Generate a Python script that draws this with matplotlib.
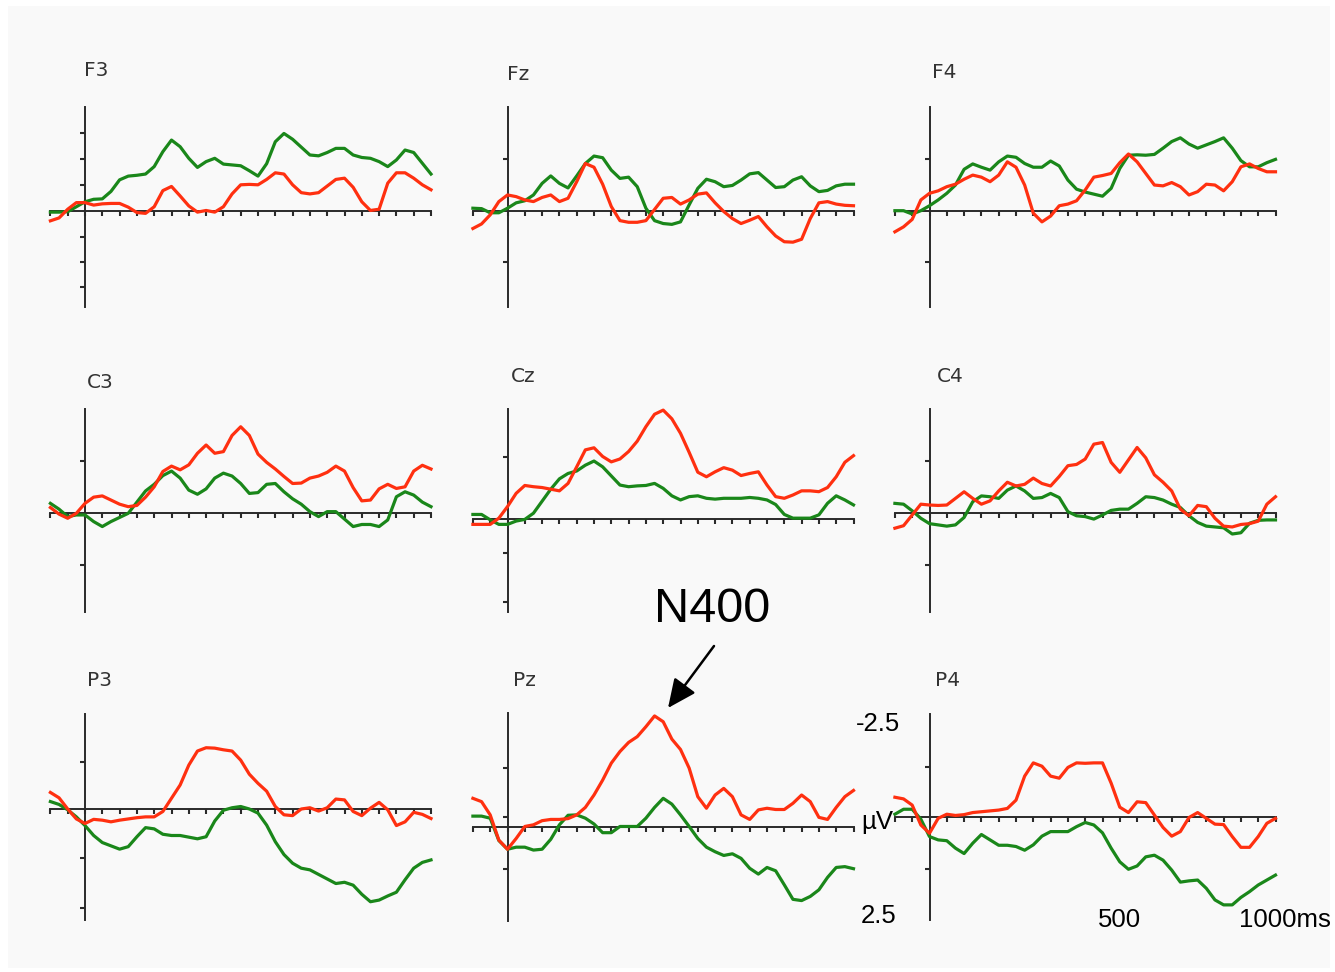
import numpy as np
import matplotlib
matplotlib.use("Agg")
import matplotlib.pyplot as plt
from matplotlib.patches import Rectangle

# ---------------------------------------------------------------- data (µV)
times = np.arange(-100, 1001, 25)  # ms, sampling grid of the averaged waves

F3_green = [0.02, 0.02, 0.01, -0.11, -0.23, -0.29, -0.30, -0.48, -0.76, -0.85,
            -0.87, -0.90, -1.08, -1.44, -1.72, -1.56, -1.28, -1.06, -1.20, -1.28,
            -1.14, -1.12, -1.10, -0.98, -0.85, -1.15, -1.68, -1.88, -1.74, -1.55,
            -1.36, -1.34, -1.42, -1.52, -1.52, -1.36, -1.30, -1.28, -1.20, -1.08,
            -1.24, -1.48, -1.42, -1.16, -0.90]
F3_red = [0.23, 0.16, -0.05, -0.21, -0.21, -0.15, -0.18, -0.19, -0.19, -0.10,
          0.03, 0.05, -0.11, -0.50, -0.60, -0.37, -0.13, 0.02, -0.02, 0.02,
          -0.11, -0.42, -0.64, -0.65, -0.64, -0.77, -0.93, -0.90, -0.64, -0.45,
          -0.42, -0.45, -0.61, -0.77, -0.80, -0.58, -0.23, -0.02, -0.05, -0.68,
          -0.93, -0.93, -0.80, -0.64, -0.52]

Fz_green = [-0.06, -0.05, 0.05, 0.05, -0.06, -0.19, -0.24, -0.38, -0.66, -0.84,
            -0.66, -0.55, -0.84, -1.14, -1.32, -1.28, -0.98, -0.78, -0.81, -0.58,
            -0.06, 0.24, 0.31, 0.33, 0.27, -0.14, -0.54, -0.76, -0.70, -0.58,
            -0.61, -0.74, -0.89, -0.92, -0.74, -0.56, -0.58, -0.74, -0.82, -0.60,
            -0.46, -0.49, -0.60, -0.64, -0.64]
Fz_red = [0.43, 0.32, 0.10, -0.22, -0.38, -0.34, -0.26, -0.22, -0.32, -0.38,
          -0.22, -0.30, -0.70, -1.14, -1.05, -0.64, -0.10, 0.24, 0.28, 0.28,
          0.24, -0.03, -0.30, -0.32, -0.16, -0.26, -0.40, -0.43, -0.19, 0.02,
          0.19, 0.31, 0.23, 0.14, 0.39, 0.61, 0.75, 0.76, 0.69, 0.19,
          -0.19, -0.22, -0.16, -0.13, -0.12]

F4_green = [0.00, 0.00, 0.08, 0.00, -0.12, -0.26, -0.42, -0.62, -1.00, -1.13,
            -1.05, -0.98, -1.18, -1.32, -1.29, -1.14, -1.05, -1.05, -1.20, -1.08,
            -0.74, -0.52, -0.45, -0.40, -0.35, -0.54, -1.02, -1.34, -1.35, -1.34,
            -1.36, -1.51, -1.67, -1.76, -1.61, -1.51, -1.59, -1.67, -1.76, -1.51,
            -1.21, -1.06, -1.06, -1.16, -1.24]
F4_red = [0.51, 0.39, 0.21, -0.26, -0.42, -0.48, -0.58, -0.64, -0.76, -0.86,
          -0.81, -0.70, -0.86, -1.18, -1.05, -0.62, 0.06, 0.27, 0.13, -0.12,
          -0.16, -0.24, -0.50, -0.81, -0.85, -0.90, -1.16, -1.37, -1.18, -0.90,
          -0.62, -0.60, -0.68, -0.58, -0.38, -0.46, -0.64, -0.62, -0.48, -0.70,
          -1.06, -1.13, -1.02, -0.94, -0.94]

C3_green = [-0.24, -0.10, 0.08, 0.04, 0.04, 0.20, 0.32, 0.20, 0.10, 0.00,
            -0.27, -0.54, -0.70, -0.91, -1.02, -0.85, -0.56, -0.46, -0.59, -0.85,
            -0.97, -0.90, -0.72, -0.48, -0.50, -0.70, -0.72, -0.52, -0.35, -0.22,
            -0.04, 0.08, -0.04, -0.04, 0.14, 0.32, 0.27, 0.27, 0.32, 0.16,
            -0.40, -0.52, -0.44, -0.27, -0.16]
C3_red = [-0.14, 0.02, 0.12, 0.00, -0.24, -0.39, -0.42, -0.32, -0.22, -0.16,
          -0.19, -0.39, -0.64, -1.01, -1.14, -1.05, -1.17, -1.45, -1.65, -1.45,
          -1.49, -1.88, -2.09, -1.88, -1.43, -1.23, -1.07, -0.89, -0.72, -0.73,
          -0.85, -0.90, -0.99, -1.14, -1.02, -0.62, -0.30, -0.32, -0.59, -0.70,
          -0.60, -0.64, -1.02, -1.16, -1.07]

Cz_green = [-0.11, -0.11, 0.02, 0.13, 0.13, 0.05, 0.01, -0.14, -0.43, -0.72,
            -0.97, -1.10, -1.16, -1.30, -1.40, -1.26, -1.04, -0.82, -0.78, -0.80,
            -0.81, -0.86, -0.74, -0.56, -0.46, -0.54, -0.56, -0.50, -0.48, -0.50,
            -0.50, -0.50, -0.52, -0.50, -0.46, -0.35, -0.11, -0.02, -0.02, -0.02,
            -0.10, -0.38, -0.56, -0.46, -0.34]
Cz_red = [0.13, 0.13, 0.13, -0.02, -0.30, -0.62, -0.81, -0.78, -0.76, -0.72,
          -0.68, -0.86, -1.26, -1.67, -1.72, -1.51, -1.38, -1.45, -1.63, -1.88,
          -2.23, -2.53, -2.63, -2.42, -2.07, -1.61, -1.13, -1.02, -1.14, -1.24,
          -1.18, -1.05, -1.10, -1.14, -0.82, -0.54, -0.50, -0.58, -0.68, -0.68,
          -0.66, -0.76, -1.02, -1.37, -1.53]

C4_green = [-0.24, -0.22, -0.06, 0.12, 0.25, 0.28, 0.31, 0.28, 0.10, -0.28,
            -0.42, -0.40, -0.36, -0.56, -0.66, -0.54, -0.36, -0.38, -0.48, -0.38,
            -0.04, 0.06, 0.08, 0.14, 0.04, -0.07, -0.10, -0.10, -0.24, -0.40,
            -0.38, -0.32, -0.22, -0.14, 0.06, 0.22, 0.31, 0.33, 0.35, 0.50,
            0.47, 0.24, 0.17, 0.16, 0.16]
C4_red = [0.36, 0.30, 0.04, -0.22, -0.20, -0.19, -0.20, -0.36, -0.52, -0.36,
          -0.22, -0.30, -0.54, -0.75, -0.66, -0.70, -0.85, -0.72, -0.66, -0.89,
          -1.15, -1.18, -1.31, -1.67, -1.71, -1.23, -0.99, -1.29, -1.59, -1.34,
          -0.93, -0.75, -0.54, -0.10, 0.06, -0.19, -0.16, 0.12, 0.31, 0.33,
          0.27, 0.25, 0.19, -0.22, -0.40]

P3_green = [-0.18, -0.11, 0.02, 0.19, 0.40, 0.64, 0.81, 0.89, 0.97, 0.91,
            0.67, 0.45, 0.48, 0.61, 0.64, 0.64, 0.68, 0.72, 0.67, 0.29,
            0.03, -0.03, -0.06, 0.00, 0.10, 0.39, 0.79, 1.10, 1.31, 1.43,
            1.47, 1.58, 1.69, 1.80, 1.77, 1.84, 2.06, 2.24, 2.20, 2.10,
            2.01, 1.71, 1.43, 1.29, 1.23]
P3_red = [-0.40, -0.27, 0.00, 0.24, 0.35, 0.25, 0.27, 0.31, 0.27, 0.24,
          0.21, 0.19, 0.19, 0.06, -0.26, -0.58, -1.06, -1.40, -1.48, -1.47,
          -1.43, -1.40, -1.18, -0.84, -0.62, -0.43, -0.06, 0.14, 0.16, 0.00,
          -0.03, 0.05, -0.03, -0.24, -0.22, 0.06, 0.16, -0.02, -0.16, 0.02,
          0.40, 0.31, 0.08, 0.13, 0.23]

Pz_green = [-0.27, -0.27, -0.22, 0.32, 0.53, 0.48, 0.48, 0.55, 0.53, 0.29,
            -0.06, -0.29, -0.30, -0.22, -0.08, 0.13, 0.13, -0.02, -0.02, -0.02,
            -0.22, -0.48, -0.70, -0.56, -0.30, -0.02, 0.27, 0.48, 0.59, 0.68,
            0.64, 0.75, 0.99, 1.13, 0.97, 1.05, 1.39, 1.74, 1.77, 1.67,
            1.51, 1.21, 0.97, 0.95, 1.00]
Pz_red = [-0.70, -0.62, -0.30, 0.31, 0.53, 0.27, -0.02, -0.06, -0.16, -0.19,
          -0.19, -0.21, -0.30, -0.48, -0.78, -1.14, -1.55, -1.83, -2.05, -2.19,
          -2.43, -2.69, -2.55, -2.13, -1.88, -1.43, -0.74, -0.46, -0.78, -0.94,
          -0.74, -0.30, -0.19, -0.42, -0.46, -0.43, -0.43, -0.58, -0.78, -0.62,
          -0.24, -0.19, -0.48, -0.74, -0.89]

P4_green = [-0.06, -0.18, -0.18, 0.06, 0.48, 0.56, 0.58, 0.76, 0.89, 0.64,
            0.43, 0.56, 0.69, 0.69, 0.72, 0.81, 0.68, 0.47, 0.36, 0.36,
            0.36, 0.24, 0.14, 0.20, 0.39, 0.76, 1.09, 1.27, 1.19, 0.97,
            0.93, 1.05, 1.29, 1.58, 1.55, 1.53, 1.73, 2.01, 2.13, 2.13,
            1.95, 1.81, 1.65, 1.53, 1.41]
P4_red = [-0.47, -0.43, -0.28, 0.20, 0.40, 0.04, -0.06, -0.03, -0.05, -0.10,
          -0.12, -0.14, -0.16, -0.20, -0.40, -0.98, -1.30, -1.22, -0.98, -0.93,
          -1.19, -1.30, -1.29, -1.30, -1.30, -0.81, -0.23, -0.10, -0.36, -0.34,
          -0.04, 0.26, 0.47, 0.36, 0.02, -0.10, 0.04, 0.18, 0.19, 0.48,
          0.74, 0.74, 0.48, 0.16, 0.04]

electrodes = ["F3", "Fz", "F4", "C3", "Cz", "C4", "P3", "Pz", "P4"]
waves = {
    "F3": (F3_green, F3_red), "Fz": (Fz_green, Fz_red), "F4": (F4_green, F4_red),
    "C3": (C3_green, C3_red), "Cz": (Cz_green, Cz_red), "C4": (C4_green, C4_red),
    "P3": (P3_green, P3_red), "Pz": (Pz_green, Pz_red), "P4": (P4_green, P4_red),
}

# ---------------------------------------------------------------- layout (pixels)
W, H = 1335, 972
PX_PER_MS = 0.346
PX_PER_UV = 41.4
col_zero_x = [85.0, 507.5, 929.5]          # x position of the 0 ms line per column

layout = {
    "F3": dict(col=0, top=106.7, zero=211.3, bottom=306.7,
               ticks=[132.7, 158.7, 184.7, 236.7, 262.0, 287.0], label=(84, 71)),
    "Fz": dict(col=1, top=107.3, zero=210.7, bottom=306.7,
               ticks=[159.0, 262.3], label=(507, 75)),
    "F4": dict(col=2, top=107.3, zero=210.7, bottom=306.7,
               ticks=[159.0, 262.3], label=(932, 73)),
    "C3": dict(col=0, top=409.0, zero=513.3, bottom=611.7,
               ticks=[461.3, 565.0], label=(87, 383)),
    "Cz": dict(col=1, top=409.0, zero=519.0, bottom=611.7,
               ticks=[457.3, 553.3, 601.7], label=(511, 377)),
    "C4": dict(col=2, top=409.0, zero=513.3, bottom=611.7,
               ticks=[461.3, 565.0], label=(937, 376)),
    "P3": dict(col=0, top=714.3, zero=809.0, bottom=920.0,
               ticks=[761.7, 857.7, 907.7], label=(87, 680)),
    "Pz": dict(col=1, top=713.3, zero=827.3, bottom=920.7,
               ticks=[767.7, 817.3, 869.3], label=(513, 681)),
    "P4": dict(col=2, top=714.0, zero=816.7, bottom=920.0,
               ticks=[766.7, 869.3], label=(935, 680)),
}

RED = "#ff3010"
GREEN = "#1a871a"
AXIS = "#2a2a2a"
LABEL_FONT = ["Liberation Sans Narrow", "DejaVu Sans"]
TEXT_FONT = ["Liberation Sans", "DejaVu Sans"]


def fx(px):
    return px / W


def fy(py):
    return 1.0 - py / H


fig = plt.figure(figsize=(W / 100, H / 100), dpi=100)
fig.patch.set_facecolor("white")
fig.add_artist(Rectangle((fx(8), fy(968)), fx(1330) - fx(8), fy(6) - fy(968),
                         transform=fig.transFigure,
                         facecolor="#f9f9f9", edgecolor="none", zorder=-10))

for name in electrodes:
    L = layout[name]
    x_zero = col_zero_x[L["col"]]
    x_left = x_zero - 100 * PX_PER_MS
    x_right = x_zero + 1000 * PX_PER_MS
    ax = fig.add_axes([fx(x_left), fy(L["bottom"]),
                       (x_right - x_left) / W, (L["bottom"] - L["top"]) / H])
    ax.patch.set_visible(False)
    ax.set_xlim(-100, 1000)
    # negative voltage plotted upwards
    ax.set_ylim((L["bottom"] - L["zero"]) / PX_PER_UV, (L["top"] - L["zero"]) / PX_PER_UV)

    for side in ("top", "right"):
        ax.spines[side].set_visible(False)
    for side in ("left", "bottom"):
        ax.spines[side].set_position(("data", 0))
        ax.spines[side].set_color(AXIS)
        ax.spines[side].set_linewidth(1.4)
        ax.spines[side].set_zorder(1)

    ax.set_xticks(np.arange(-100, 1001, 50))
    ax.set_yticks([(p - L["zero"]) / PX_PER_UV for p in L["ticks"]])
    ax.tick_params(axis="both", direction="out", length=3.5, width=1.5,
                   color=AXIS, labelbottom=False, labelleft=False)

    green, red = waves[name]
    ax.plot(times, green, color=GREEN, lw=2.3, clip_on=False, zorder=3,
            solid_joinstyle="round")
    ax.plot(times, red, color=RED, lw=2.3, clip_on=False, zorder=4,
            solid_joinstyle="round")

    lx, ly = L["label"]
    fig.text(fx(lx), fy(ly), name, ha="left", va="center", fontsize=14.5,
             color="#333333", family=LABEL_FONT)

# scale annotations
TXT = dict(fontsize=18.5, family=TEXT_FONT, color="black", va="center")
fig.text(fx(878), fy(724), "-2.5", ha="center", **TXT)
fig.text(fx(861), fy(822), "µV", ha="left", **TXT)
fig.text(fx(879), fy(916), "2.5", ha="center", **TXT)
fig.text(fx(1119), fy(920), "500", ha="center", **TXT)
fig.text(fx(1239), fy(920), "1000ms", ha="left", **TXT)

# N400 call-out
fig.text(fx(712), fy(610), "N400", ha="center", va="center", fontsize=35,
         family=TEXT_FONT, color="black")
fig.add_artist(plt.Annotation(
    "", xy=(fx(668), fy(708)), xytext=(fx(714), fy(646)),
    xycoords="figure fraction", textcoords="figure fraction",
    arrowprops=dict(arrowstyle="-|>,head_length=0.7,head_width=0.32",
                    mutation_scale=25, color="black", lw=1.8,
                    shrinkA=0, shrinkB=0)))

fig.savefig("out.png", dpi=100, facecolor=fig.get_facecolor())
